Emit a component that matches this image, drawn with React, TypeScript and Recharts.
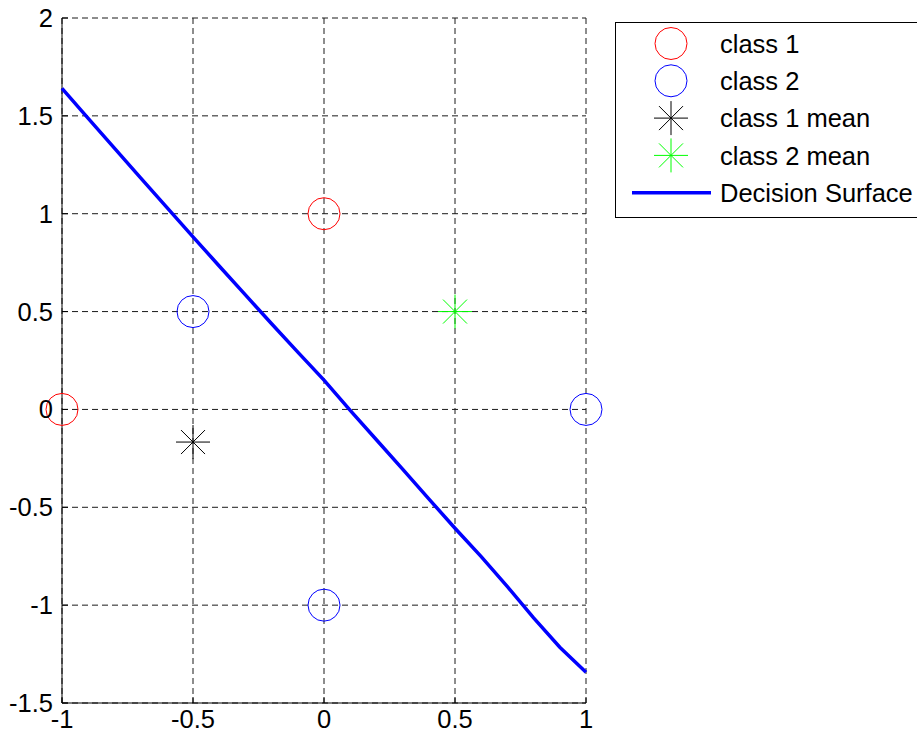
import React from "react";
import { ScatterChart, Scatter, XAxis, YAxis, CartesianGrid, Legend } from "recharts";

const xTicks = [-1, -0.5, 0, 0.5, 1];
const yTicks = [-1.5, -1, -0.5, 0, 0.5, 1, 1.5, 2];

const class1X = [0, -1];
const class1Y = [1, 0];
const class2X = [-0.5, 1, 0];
const class2Y = [0.5, 0, -1];
const mean1X = [-0.5];
const mean1Y = [-0.1667];
const mean2X = [0.5];
const mean2Y = [0.5];

const boundaryX = [-1, -0.9, -0.8, -0.7, -0.6, -0.5, -0.4, -0.3, -0.2, -0.1, 0, 0.1, 0.2, 0.3, 0.4, 0.5, 0.6, 0.7, 0.8, 0.9, 1];
const boundaryY = [1.64, 1.487, 1.335, 1.183, 1.032, 0.882, 0.733, 0.585, 0.438, 0.293, 0.15, -0.005, -0.155, -0.305, -0.457, -0.607, -0.752, -0.905, -1.065, -1.215, -1.343];

const legendLabels = ["class 1", "class 2", "class 1 mean", "class 2 mean", "Decision Surface"];

const toPts = (xs: number[], ys: number[]) => xs.map((x, i) => ({ x, y: ys[i] }));

const FONT = "'Liberation Sans', Arial, Helvetica, sans-serif";

const ring = (color: string) => (p: any) =>
  <circle cx={p.cx} cy={p.cy} r={16} fill="none" stroke={color} strokeWidth={1} />;

const Star = ({ cx, cy, color }: { cx: number; cy: number; color: string }) => (
  <g stroke={color} strokeWidth={1}>
    <line x1={cx - 17} y1={cy} x2={cx + 17} y2={cy} />
    <line x1={cx} y1={cy - 17} x2={cx} y2={cy + 17} />
    <line x1={cx - 12} y1={cy - 12} x2={cx + 12} y2={cy + 12} />
    <line x1={cx - 12} y1={cy + 12} x2={cx + 12} y2={cy - 12} />
  </g>
);

const star = (color: string) => (p: any) => <Star cx={p.cx} cy={p.cy} color={color} />;

function LegendBox() {
  const rowY = (i: number) => 21.5 + 37.3 * i;
  return (
    <svg width={302} height={197} style={{ display: "block" }}>
      <rect x={0.5} y={0.5} width={330} height={195} fill="#fff" stroke="#000" strokeWidth={1} />
      <circle cx={56} cy={rowY(0)} r={16} fill="none" stroke="#ff0000" />
      <circle cx={56} cy={rowY(1)} r={16} fill="none" stroke="#0000ff" />
      <Star cx={56} cy={rowY(2)} color="#000" />
      <Star cx={56} cy={rowY(3)} color="#00ff00" />
      <line x1={17} y1={rowY(4)} x2={96} y2={rowY(4)} stroke="#0000ff" strokeWidth={3.5} />
      {legendLabels.map((t, i) => (
        <text key={t} x={105} y={rowY(i)} dy="0.36em" fontSize={25.5} fontFamily={FONT} fill="#000">
          {t}
        </text>
      ))}
    </svg>
  );
}

export default function App() {
  const tickStyle = { fill: "#000", fontSize: 25.5, fontFamily: FONT };
  return (
    <div style={{ position: "absolute", left: 0, top: 0, background: "#fff" }}>
      <ScatterChart width={917} height={736} margin={{ top: 18, right: 331, bottom: 0, left: 0 }}>
        <CartesianGrid stroke="#1a1a1a" strokeDasharray="6 4" />
        <XAxis
          type="number"
          dataKey="x"
          domain={[-1, 1]}
          ticks={xTicks}
          height={33}
          axisLine={{ stroke: "#000" }}
          tickLine={{ stroke: "#000" }}
          tickSize={-6}
          tickMargin={13}
          tick={tickStyle}
        />
        <YAxis
          type="number"
          dataKey="y"
          domain={[-1.5, 2]}
          ticks={yTicks}
          width={62}
          axisLine={{ stroke: "#000" }}
          tickLine={{ stroke: "#000" }}
          tickSize={-6}
          tickMargin={15}
          tick={tickStyle}
        />
        <Scatter data={toPts(class1X, class1Y)} shape={ring("#ff0000")} isAnimationActive={false} />
        <Scatter data={toPts(class2X, class2Y)} shape={ring("#0000ff")} isAnimationActive={false} />
        <Scatter data={toPts(mean1X, mean1Y)} shape={star("#000")} isAnimationActive={false} />
        <Scatter data={toPts(mean2X, mean2Y)} shape={star("#00ff00")} isAnimationActive={false} />
        <Scatter
          data={toPts(boundaryX, boundaryY)}
          line={{ stroke: "#0000ff", strokeWidth: 3.5 }}
          lineType="joint"
          shape={() => <g />}
          isAnimationActive={false}
        />
        <Legend
          layout="horizontal"
          verticalAlign="middle"
          align="center"
          content={() => <LegendBox />}
          wrapperStyle={{ position: "absolute", left: 615, top: 22, width: 302, height: 197 }}
        />
      </ScatterChart>
    </div>
  );
}
